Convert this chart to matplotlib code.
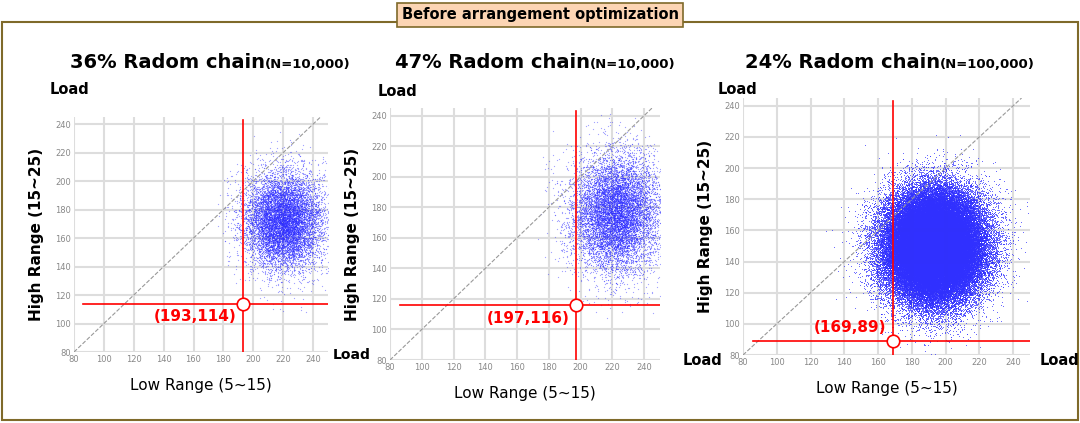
import numpy as np
import matplotlib.pyplot as plt
from matplotlib.patches import Rectangle

# panel info
titles = ['36% Radom chain', '47% Radom chain', '24% Radom chain']
n_labels = ['(N=10,000)', '(N=10,000)', '(N=100,000)']
n_points = [10000, 10000, 100000]
centers = [(220, 172), (222, 176), (193, 150)]
spreads = [(13, 17), (14, 19), (14, 17)]
worst = [(193, 114), (197, 116), (169, 89)]
ticks = [80, 100, 120, 140, 160, 180, 200, 220, 240]

W, H = 1080, 423
# axes boxes in pixels: left, right, top, bottom
boxes = [(74, 328, 117, 352), (390, 660, 108, 360), (743, 1030, 98, 355)]
title_ends = [265, 590, 940]
load_tops = [(50, 90), (378, 92), (718, 90)]

fig = plt.figure(figsize=(10.8, 4.23), dpi=100)
fig.patches.append(Rectangle((2 / W, 3 / H), 1076 / W, 398 / H, transform=fig.transFigure,
                             fill=False, edgecolor='#7f6a2a', lw=1.5))
fig.text(0.5, 1 - 15 / H, 'Before arrangement optimization', ha='center', va='center',
         fontsize=10.5, fontweight='bold',
         bbox=dict(boxstyle='square,pad=0.3', fc='#fcd5b4', ec='#7f6a2a', lw=1.2))

# cloud of simulated points (shape)
rng = np.random.default_rng(3)
for i in range(3):
    l, r, t, b = boxes[i]
    ax = fig.add_axes([l / W, 1 - b / H, (r - l) / W, (b - t) / H])
    cx, cy = centers[i]
    sx, sy = spreads[i]
    x = rng.normal(cx, sx, n_points[i])
    y = rng.normal(cy, sy, n_points[i])
    big = n_points[i] > 20000
    ax.scatter(x, y, s=0.5 if big else 0.8, c='#3030ff', alpha=0.6 if big else 0.45, lw=0)
    ax.plot([80, 245], [80, 245], ls='--', color='#999999', lw=0.8)
    wx, wy = worst[i]
    ax.plot([86, 250], [wy, wy], color='red', lw=1.2)
    ax.plot([wx, wx], [80, 243], color='red', lw=1.2)
    ax.plot(wx, wy, 'o', ms=9, mfc='white', mec='red', mew=1.2)
    ax.text(wx - 4, wy - 4 if i < 2 else wy + 4, f'({wx},{wy})', color='red', fontsize=11,
            fontweight='bold', ha='right', va='top' if i < 2 else 'bottom')
    ax.set_xlim(80, 250)
    ax.set_ylim(80, 245)
    ax.set_xticks(ticks)
    ax.set_yticks(ticks)
    ax.tick_params(labelsize=6, colors='#888888', length=0, pad=2)
    ax.grid(color='#dddddd', lw=1.5)
    ax.set_axisbelow(True)
    for s in ax.spines.values():
        s.set_visible(False)
    ax.set_xlabel('Low Range (5~15)', fontsize=11, labelpad=10)
    ax.set_ylabel('High Range (15~25)', fontsize=11, fontweight='bold', labelpad=8)
    fig.text(title_ends[i] / W, 1 - 62 / H, titles[i], ha='right', va='center', fontsize=14,
             fontweight='bold')
    fig.text(title_ends[i] / W, 1 - 65 / H, n_labels[i], ha='left', va='center', fontsize=9.5,
             fontweight='bold')
    lx, ly = load_tops[i]
    fig.text(lx / W, 1 - ly / H, 'Load', fontsize=10.5, fontweight='bold', va='center')

fig.text(333 / W, 1 - 355 / H, 'Load', fontsize=10, fontweight='bold', va='center')
fig.text(683 / W, 1 - 360 / H, 'Load', fontsize=10.5, fontweight='bold', va='center')
fig.text(1040 / W, 1 - 360 / H, 'Load', fontsize=10.5, fontweight='bold', va='center')

fig.savefig('out.png', dpi=100)
